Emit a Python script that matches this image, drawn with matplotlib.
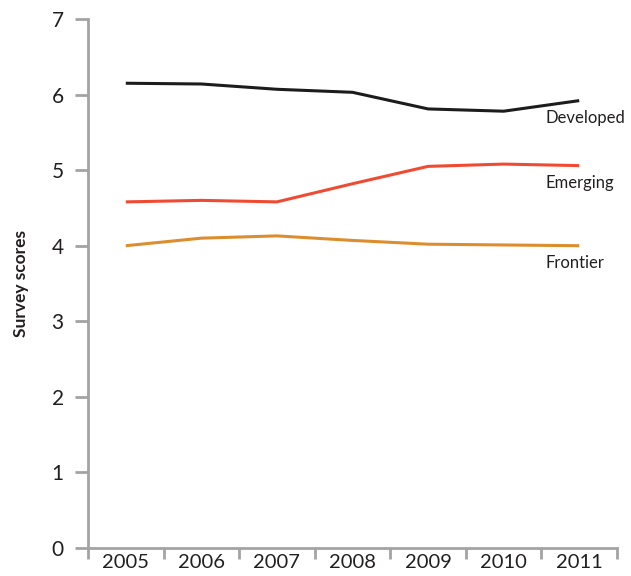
import matplotlib
matplotlib.use('Agg')
import matplotlib.pyplot as plt
import numpy as np

years = ['2005', '2006', '2007', '2008', '2009', '2010', '2011']
developed = [6.15, 6.14, 6.07, 6.03, 5.81, 5.78, 5.92]
emerging = [4.58, 4.60, 4.58, 4.82, 5.05, 5.08, 5.06]
frontier = [4.00, 4.10, 4.13, 4.07, 4.02, 4.01, 4.00]

series = [('Developed', developed, '#1c1c1c'),
          ('Emerging', emerging, '#f04b32'),
          ('Frontier', frontier, '#dc8e2e')]

axis_grey = '#a3a3a5'
text_col = '#231f20'

plt.rcParams['font.family'] = ['Lato', 'DejaVu Sans']

fig = plt.figure(figsize=(6.31, 5.76), dpi=100)
ax = fig.add_axes([88 / 631, 1 - 548 / 576, (617 - 88) / 631, (548 - 19) / 576])

x = np.arange(len(years))
for name, vals, col in series:
    ax.plot(x, vals, color=col, lw=2.2, solid_capstyle='butt')
    ax.text(x[-1] - 0.44, vals[-1] - 0.12, name, ha='left', va='top',
            fontsize=12, color=text_col)

ax.set_xlim(-0.5, len(years) - 0.5)
ax.set_ylim(0, 7)

for s in ['top', 'right']:
    ax.spines[s].set_visible(False)
for s in ['left', 'bottom']:
    ax.spines[s].set_color(axis_grey)
    ax.spines[s].set_linewidth(2)

ax.set_yticks(range(0, 8))
ax.tick_params(axis='y', direction='out', length=9.5, width=2, color=axis_grey,
               labelsize=15, labelcolor=text_col, pad=8)

ax.set_xticks(np.arange(-0.5, len(years), 1.0))
ax.set_xticklabels([])
ax.set_xticks(x, minor=True)
ax.set_xticklabels(years, minor=True)
ax.tick_params(axis='x', which='major', direction='out', length=8, width=2, color=axis_grey)
ax.tick_params(axis='x', which='minor', length=0, labelsize=14.5, labelcolor=text_col, pad=4)

ax.set_ylabel('Survey scores', fontsize=12.5, fontweight='bold', color=text_col, labelpad=16)

fig.savefig('out.png', dpi=100)
